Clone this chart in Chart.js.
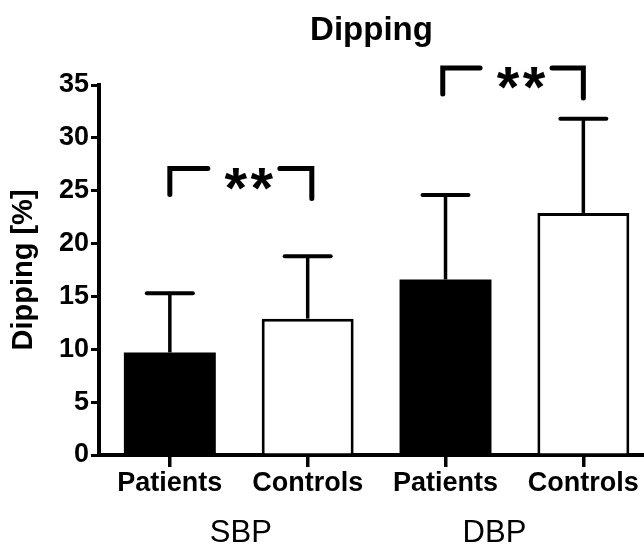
<!DOCTYPE html>
<html><head><meta charset="utf-8">
<script src="https://cdn.jsdelivr.net/npm/chart.js@4/dist/chart.umd.min.js"></script>
<style>html,body{margin:0;padding:0;background:#fff;}#wrap{width:644px;height:548px;}</style>
</head><body><div id="wrap"><canvas id="c" width="644" height="548"></canvas></div>
<script>
// ---- data ----
const categories = ['Patients', 'Controls', 'Patients', 'Controls'];
const positions = [1, 2, 3, 4];
const means = [9.7, 12.9, 16.6, 22.9];
const sdUpper = [5.6, 5.9, 8.0, 8.9];
const groups = ['SBP', 'DBP'];
const groupPositions = [1.515, 3.355];
const yTicks = [0, 5, 10, 15, 20, 25, 30, 35];
const sigFrom = [1.0, 2.98];
const sigTo = [2.03, 4.0];
const sigLevel = [27.1, 36.6];
const sigText = ['**', '**'];
const barColors = ['#000000', '#ffffff', '#000000', '#ffffff'];

const FONT = 'Liberation Sans, Arial, Helvetica, sans-serif';

const annot = {
  id: 'annot',
  afterDatasetsDraw(chart) {
    const {ctx, scales: {x, y}} = chart;
    ctx.save();
    ctx.strokeStyle = '#000';
    ctx.fillStyle = '#000';
    const line = (a, b, c, d) => { ctx.beginPath(); ctx.moveTo(a, b); ctx.lineTo(c, d); ctx.stroke(); };
    // error bars (upper only)
    positions.forEach((p, i) => {
      const px = x.getPixelForValue(p);
      const top = y.getPixelForValue(means[i]);
      const cap = y.getPixelForValue(means[i] + sdUpper[i]);
      ctx.lineCap = 'butt';
      ctx.lineWidth = 3.5;
      line(px, top, px, cap);
      ctx.lineWidth = 4;
      ctx.lineCap = 'round';
      line(px - 23, cap, px + 23, cap);
    });
    // significance brackets
    sigFrom.forEach((f, i) => {
      const x1 = x.getPixelForValue(f);
      const x2 = x.getPixelForValue(sigTo[i]);
      const yy = y.getPixelForValue(sigLevel[i]);
      const mid = (x1 + x2) / 2 + 3;
      ctx.lineWidth = 5;
      ctx.lineCap = 'round';
      ctx.lineJoin = 'miter';
      ctx.beginPath();
      ctx.moveTo(x1, yy + 26); ctx.lineTo(x1, yy); ctx.lineTo(mid - 36, yy);
      ctx.stroke();
      ctx.beginPath();
      ctx.moveTo(mid + 36, yy); ctx.lineTo(x2, yy); ctx.lineTo(x2, yy + 30);
      ctx.stroke();
      // stars
      ctx.font = 'bold 58px ' + FONT;
      ctx.textAlign = 'center';
      ctx.textBaseline = 'alphabetic';
      const m = ctx.measureText('*');
      const off = (m.actualBoundingBoxAscent - m.actualBoundingBoxDescent) / 2;
      const cy = yy + 10;
      const chars = sigText[i].split('');
      chars.forEach((ch, k) => {
        const cx = mid + 5 + (k - (chars.length - 1) / 2) * 26;
        ctx.fillText(ch, cx, cy + off);
      });
    });
    ctx.restore();
  }
};

new Chart(document.getElementById('c'), {
  type: 'bar',
  data: {
    datasets: [{
      data: positions.map((p, i) => ({x: p, y: means[i]})),
      backgroundColor: barColors,
      borderColor: '#000',
      borderWidth: barColors.map(c => c === '#ffffff' ? 3 : 0),
      borderSkipped: 'start',
      barPercentage: 0.667,
      categoryPercentage: 1.0
    }]
  },
  options: {
    responsive: false,
    animation: false,
    devicePixelRatio: 1,
    layout: {padding: 0},
    plugins: {
      legend: {display: false},
      tooltip: {enabled: false},
      title: {
        display: true,
        text: 'Dipping',
        color: '#000',
        fullSize: false,
        font: {family: FONT, size: 33, weight: 'bold', lineHeight: 1.2},
        padding: {top: 11, bottom: 34.4}
      }
    },
    scales: {
      x: {
        type: 'linear',
        position: 'bottom',
        weight: 0,
        z: 1,
        min: 0.486,
        max: 4.44,
        offset: false,
        afterBuildTicks: s => { s.ticks = positions.map(v => ({value: v})); },
        afterFit: s => { s.height = 52; },
        ticks: {
          autoSkip: false, maxRotation: 0, minRotation: 0,
          color: '#000', padding: 3,
          font: {family: FONT, size: 27, weight: 'bold', lineHeight: 1},
          callback: (v) => categories[positions.indexOf(v)]
        },
        grid: {offset: false, drawOnChartArea: false, drawTicks: true, tickLength: 12, lineWidth: 3.5, color: '#000'},
        border: {display: true, color: '#000', width: 4}
      },
      x2: {
        type: 'linear',
        position: 'bottom',
        weight: 1,
        min: 0.486,
        max: 4.44,
        offset: false,
        afterBuildTicks: s => { s.ticks = groupPositions.map(v => ({value: v})); },
        afterFit: s => { s.height = 41; },
        ticks: {
          autoSkip: false, maxRotation: 0, minRotation: 0,
          color: '#000', padding: 10.5,
          font: {family: FONT, size: 31, weight: 'normal', lineHeight: 1},
          callback: (v) => groups[groupPositions.indexOf(v)]
        },
        grid: {display: false, drawTicks: false, offset: false},
        border: {display: false}
      },
      y: {
        type: 'linear',
        position: 'left',
        z: 1,
        min: 0,
        max: 35,
        afterBuildTicks: s => { s.ticks = yTicks.map(v => ({value: v})); },
        afterFit: s => { s.width = 99; },
        ticks: {
          color: '#000', padding: 2,
          font: {family: FONT, size: 27, weight: 'bold', lineHeight: 1}
        },
        grid: {drawOnChartArea: false, drawTicks: true, tickLength: 8, lineWidth: 3, color: '#000'},
        border: {display: true, color: '#000', width: 4},
        title: {
          display: true,
          text: 'Dipping [%]',
          color: '#000',
          font: {family: FONT, size: 29, weight: 'bold', lineHeight: 1.2},
          padding: {top: 7, bottom: 0}
        }
      }
    }
  },
  plugins: [annot]
});
</script>
</body></html>
